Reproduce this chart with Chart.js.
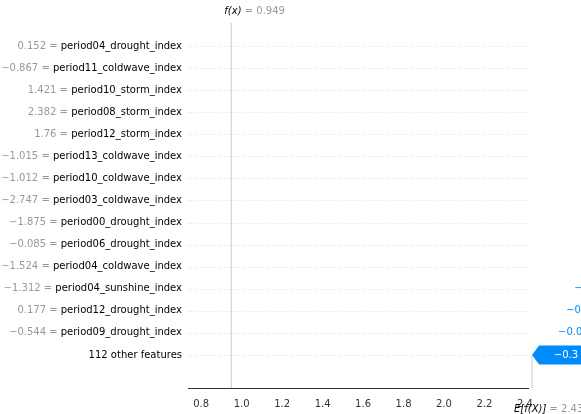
<!DOCTYPE html>
<html><head><meta charset="utf-8">
<script src="https://cdn.jsdelivr.net/npm/chart.js@4"></script>
<style>html,body{margin:0;padding:0;background:#fff}#w{width:581px;height:414px}</style>
</head><body><div id="w"><canvas id="c"></canvas></div>
<script>
const featureNames=["period04_drought_index","period11_coldwave_index","period10_storm_index","period08_storm_index","period12_storm_index","period13_coldwave_index","period10_coldwave_index","period03_coldwave_index","period00_drought_index","period06_drought_index","period04_coldwave_index","period04_sunshine_index","period12_drought_index","period09_drought_index","112 other features"];
const featureValues=["0.152","\u22120.867","1.421","2.382","1.76","\u22121.015","\u22121.012","\u22122.747","\u22121.875","\u22120.085","\u22121.524","\u22121.312","0.177","\u22120.544",""];
const shapValues=[-0.296,-0.21,-0.15,-0.1,-0.09,0.07,-0.07,-0.06,-0.05,-0.05,-0.05,-0.05,-0.04,-0.04,-0.3];
const shapLabels=["\u22120.3","\u22120.21","\u22120.15","\u22120.1","\u22120.09","+0.07","\u22120.07","\u22120.06","\u22120.05","\u22120.05","\u22120.05","\u22120.05","\u22120.04","\u22120.04","\u22120.3"];
const baseValue=2.435, fx=0.949;
const xTicks=[0.8,1.0,1.2,1.4,1.6,1.8,2.0,2.2,2.4];
const BLUE='#008bfb', RED='#ff0051';
const ends=new Array(shapValues.length);
let cur=baseValue;
for(let i=shapValues.length-1;i>=0;i--){ends[i]=[cur-shapValues[i],cur];cur=cur-shapValues[i];}
const data=ends.map(e=>[Math.min(e[0],e[1]),Math.max(e[0],e[1])]);
data.push(null);
const labels=featureNames.concat(['']);
const F='"DejaVu Sans", sans-serif';
const plug={id:'wf',
 beforeDatasetsDraw(ch){const {ctx,chartArea:a,scales:{x,y}}=ch;ctx.save();
  ctx.strokeStyle='#ddd';ctx.setLineDash([1,2]);ctx.lineWidth=1;
  for(let i=0;i<featureNames.length;i++){const yy=Math.round(y.getPixelForValue(i))+0.5;ctx.beginPath();ctx.moveTo(a.left,yy);ctx.lineTo(a.right,yy);ctx.stroke();}
  ctx.setLineDash([]);ctx.strokeStyle='#ccc';
  const xf=x.getPixelForValue(fx),xb=x.getPixelForValue(baseValue);
  ctx.beginPath();ctx.moveTo(xf,a.top-12);ctx.lineTo(xf,a.bottom);ctx.stroke();
  ctx.beginPath();ctx.moveTo(xb,y.getPixelForValue(14));ctx.lineTo(xb,a.bottom);ctx.stroke();
  ctx.restore();},
 afterDatasetsDraw(ch){const {ctx,scales:{x,y}}=ch;const meta=ch.getDatasetMeta(0);ctx.save();
  meta.data.forEach((el,i)=>{if(i>=shapValues.length)return;const v=shapValues[i];const h=el.height;const t=el.y-h/2,b=el.y+h/2;
   const l=Math.min(el.x,el.base),r=Math.max(el.x,el.base);const hw=Math.min(7,(r-l));
   ctx.fillStyle=v<0?BLUE:RED;ctx.beginPath();
   if(v<0){ctx.moveTo(r,t);ctx.lineTo(l+hw,t);ctx.lineTo(l,el.y);ctx.lineTo(l+hw,b);ctx.lineTo(r,b);}
   else{ctx.moveTo(l,t);ctx.lineTo(r-hw,t);ctx.lineTo(r,el.y);ctx.lineTo(r-hw,b);ctx.lineTo(l,b);}
   ctx.closePath();ctx.fill();
   ctx.font='10px '+F;ctx.textBaseline='middle';const tw=ctx.measureText(shapLabels[i]).width;
   if(tw+hw+6<r-l){ctx.fillStyle='#fff';ctx.textAlign='center';ctx.fillText(shapLabels[i],(l+r)/2+(v<0?hw/2:-hw/2),el.y);}
   else if(v<0){ctx.fillStyle=BLUE;ctx.textAlign='right';ctx.fillText(shapLabels[i],l-4,el.y);}
   else{ctx.fillStyle=RED;ctx.textAlign='left';ctx.fillText(shapLabels[i],r+4,el.y);}
   const yy=y.getPixelForValue(i);ctx.textAlign='right';ctx.font='10px '+F;
   const nx=x.left-6;ctx.fillStyle='#000';ctx.fillText(featureNames[i],nx,yy);
   if(featureValues[i]){const nw=ctx.measureText(featureNames[i]).width;ctx.fillStyle='#999';ctx.fillText(featureValues[i]+' = ',nx-nw,yy);}
  });
  const a=ch.chartArea;ctx.textBaseline='middle';ctx.font='italic 10px '+F;
  const xf=x.getPixelForValue(fx);ctx.textAlign='left';ctx.fillStyle='#000';
  let s='f(x)';ctx.fillText(s,xf-7,a.top-24);let w=ctx.measureText(s).width;ctx.font='10px '+F;ctx.fillStyle='#999';ctx.fillText(' = 0.949',xf-7+w,a.top-24);
  const xb=x.getPixelForValue(baseValue);ctx.font='italic 10px '+F;ctx.fillStyle='#000';s='E[f(X)]';w=ctx.measureText(s).width;
  ctx.fillText(s,xb-18,a.bottom+21);ctx.font='10px '+F;ctx.fillStyle='#999';ctx.fillText(' = 2.435',xb-18+w,a.bottom+21);
  ctx.restore();}
};
new Chart(document.getElementById('c'),{type:'bar',
 data:{labels:labels,datasets:[{data:data,backgroundColor:'rgba(0,0,0,0)',barThickness:19}]},
 options:{indexAxis:'y',responsive:true,maintainAspectRatio:false,animation:false,
  layout:{padding:{left:188,right:53,top:35,bottom:2}},
  plugins:{legend:{display:false},tooltip:{enabled:false}},
  scales:{
   x:{type:'linear',min:0.735,max:2.415,afterBuildTicks:s=>{s.ticks=xTicks.map(v=>({value:v}));},
    grid:{display:false},border:{display:true,color:'#333'},
    ticks:{color:'#333',font:{size:10,family:F},callback:v=>v.toFixed(1),padding:2}},
   y:{type:'category',display:false}
  }},
 plugins:[plug]});
</script></body></html>
